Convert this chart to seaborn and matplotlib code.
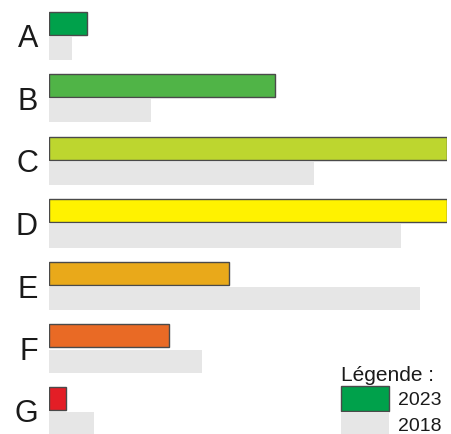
"""Répartition par classe : barres 2023 colorées, 2018 en gris."""

import matplotlib.pyplot as plt
import pandas as pd
import seaborn as sns
from matplotlib.patches import Patch

classes = ["A", "B", "C", "D", "E", "F", "G"]
valeurs_2023 = [9.5, 56.8, 100.0, 100.0, 45.2, 30.2, 4.3]
valeurs_2018 = [5.8, 25.6, 66.6, 88.4, 93.2, 38.4, 11.3]
annees = ["2023", "2018"]

couleurs_2023 = ["#00a14b", "#50b447", "#bdd62f", "#fff200", "#e9a91a", "#e96a25", "#e31e26"]
gris_2018 = "#e6e6e6"

df = pd.DataFrame(
    {
        "classe": classes * 2,
        "annee": [annees[0]] * len(classes) + [annees[1]] * len(classes),
        "valeur": valeurs_2023 + valeurs_2018,
    }
)

sns.set_style("white")
plt.rcParams["font.family"] = ["Liberation Sans", "DejaVu Sans"]

W, H = 451, 434
fig = plt.figure(figsize=(W / 100, H / 100), dpi=100)
ax = fig.add_axes([49 / W, 0, (447 - 49) / W, 1])

sns.barplot(
    data=df,
    y="classe",
    x="valeur",
    hue="annee",
    order=classes,
    hue_order=annees,
    orient="h",
    width=0.8,
    gap=0.08,
    dodge=True,
    legend=False,
    ax=ax,
)

for bar, couleur in zip(ax.containers[0], couleurs_2023):
    bar.set_facecolor(couleur)
    bar.set_edgecolor("#4a4a4a")
    bar.set_linewidth(1.0)
for bar in ax.containers[1]:
    bar.set_facecolor(gris_2018)
    bar.set_edgecolor("none")
    bar.set_linewidth(0)

ax.set_xlim(0, 100)
ax.set_ylim(6.368, -0.576)
ax.set_xlabel("")
ax.set_ylabel("")
ax.set_xticks([])
ax.tick_params(axis="y", length=0, pad=8, labelsize=22, labelcolor="#1a1a1a")
sns.despine(ax=ax, left=True, bottom=True)

handles = [
    Patch(facecolor=couleurs_2023[0], edgecolor="#4a4a4a", linewidth=1.0, label="2023"),
    Patch(facecolor=gris_2018, edgecolor="none", label="2018"),
]
leg = fig.legend(
    handles=handles,
    title="Légende :",
    loc="upper left",
    bbox_to_anchor=(341 / W, (H - 366) / H),
    frameon=False,
    fontsize=14,
    title_fontsize=15,
    handlelength=2.47,
    handleheight=1.6,
    handletextpad=0.45,
    labelspacing=0.05,
    borderpad=0,
    borderaxespad=0,
    alignment="left",
)
for txt in leg.get_texts():
    txt.set_color("#1a1a1a")
leg.get_title().set_color("#1a1a1a")

fig.savefig("out.png", dpi=100)
